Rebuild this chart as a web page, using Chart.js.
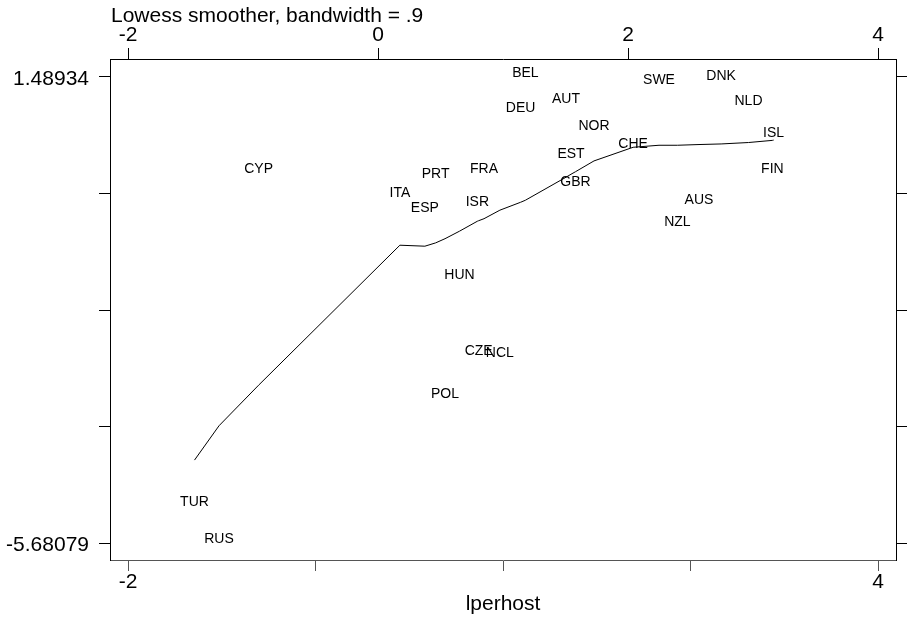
<!DOCTYPE html>
<html>
<head>
<meta charset="utf-8">
<script src="https://cdn.jsdelivr.net/npm/chart.js@4/dist/chart.umd.min.js"></script>
<style>
  html, body { margin: 0; padding: 0; background: #fff; }
  #wrap { width: 907px; height: 618px; }
</style>
</head>
<body>
<div id="wrap"><canvas id="chart" width="907" height="618"></canvas></div>
<script>
const countries = ['AUS', 'AUT', 'BEL', 'CHE', 'CYP', 'CZE', 'DEU', 'DNK', 'ESP', 'EST', 'FIN', 'FRA', 'GBR',
  'HUN', 'ISL', 'ISR', 'ITA', 'NCL', 'NLD', 'NOR', 'NZL', 'POL', 'PRT', 'RUS', 'SWE', 'TUR']
const lperhost = [2.567, 1.503, 1.178, 2.040, -0.956, 0.804, 1.140, 2.744, 0.374, 1.543, 3.154, 0.847, 1.579,
  0.651, 3.164, 0.794, 0.174, 0.974, 2.963, 1.727, 2.394, 0.535, 0.460, -1.273, 2.247, -1.469]
const yValues = [-0.468, 1.089, 1.48934, 0.396, 0.005, -2.787, 0.947, 1.436, -0.596, 0.242, 0.012, 0.012, -0.194,
  -1.621, 0.562, -0.499, -0.357, -2.821, 1.062, 0.667, -0.810, -3.451, -0.071, -5.68079, 1.385, -5.120]
const lowessFit = [0.450, -0.053, -0.407, 0.408, -3.252, -0.722, -0.438, 0.459, -1.114, -0.007, 0.514, -0.691, 0.032,
  -0.883, 0.518, -0.730, -1.099, -0.560, 0.481, 0.198, 0.439, -0.999, -1.063, -3.877, 0.439, -4.405]

const xTicksBottom = [-2, -0.5, 1, 2.5, 4]
const xLabelsBottom = ['-2', '', '', '', '4']
const xTicksTop = [-2, 0, 2, 4]
const xLabelsTop = ['-2', '0', '2', '4']
const yTicks = [-5.68079, -3.888323, -2.095855, -0.303388, 1.48934]
const yLabels = ['-5.68079', '', '', '', '1.48934']

const titleText = 'Lowess smoother, bandwidth = .9'
const xTitle = 'lperhost'

const fontFamily = '"Liberation Sans", Arial, Helvetica, sans-serif'
const axisFont = { family: fontFamily, size: 21 }

// points sorted by x for the smoother line
let order = lperhost.map((x, i) => i).sort((a, b) => lperhost[a] - lperhost[b])
let lineData = order.map(i => ({ x: lperhost[i], y: lowessFit[i] }))
let pointData = lperhost.map((x, i) => ({ x: x, y: yValues[i] }))

// country labels centred on the (invisible) markers
const markerLabels = {
  id: 'markerLabels',
  afterDatasetsDraw(chart) {
    const meta = chart.getDatasetMeta(1)
    const ctx = chart.ctx
    ctx.save()
    ctx.font = '14px ' + fontFamily
    ctx.fillStyle = '#000'
    ctx.textAlign = 'center'
    ctx.textBaseline = 'middle'
    meta.data.forEach((pt, i) => ctx.fillText(countries[i], pt.x, pt.y - 4))
    ctx.restore()
  }
}

const topTitle = {
  id: 'topTitle',
  afterDraw(chart) {
    const ctx = chart.ctx
    ctx.save()
    ctx.font = '21px ' + fontFamily
    ctx.fillStyle = '#000'
    ctx.textAlign = 'left'
    ctx.textBaseline = 'alphabetic'
    ctx.fillText(titleText, chart.chartArea.left + 1, 21.5)
    ctx.restore()
  }
}

function fixedTicks(values) {
  return axis => { axis.ticks = values.map(v => ({ value: v })) }
}

const xMin = -2.145, xMax = 4.143
const yMin = -5.942, yMax = 1.766

new Chart(document.getElementById('chart').getContext('2d'), {
  type: 'scatter',
  data: {
    datasets: [{
      type: 'line',
      label: 'lowess',
      data: lineData,
      borderColor: '#000',
      borderWidth: 1,
      pointRadius: 0,
      tension: 0,
      fill: false
    }, {
      label: 'countries',
      data: pointData,
      pointRadius: 0,
      pointHoverRadius: 0,
      showLine: false
    }]
  },
  plugins: [markerLabels, topTitle],
  options: {
    responsive: false,
    animation: false,
    layout: { padding: 0 },
    plugins: {
      legend: { display: false },
      tooltip: { enabled: false },
      title: { display: false }
    },
    scales: {
      x: {
        type: 'linear',
        position: 'bottom',
        min: xMin,
        max: xMax,
        afterBuildTicks: fixedTicks(xTicksBottom),
        afterFit: axis => { axis.height = 58 },
        ticks: {
          callback: (v, i) => xLabelsBottom[i],
          font: axisFont,
          color: '#000',
          padding: -1,
          maxRotation: 0,
          autoSkip: false
        },
        grid: { drawOnChartArea: false, tickLength: 11, color: '#555' },
        border: { color: '#555' },
        title: { display: true, text: xTitle, font: axisFont, color: '#000', padding: { top: 0, bottom: 1 } }
      },
      x2: {
        type: 'linear',
        position: 'top',
        min: xMin,
        max: xMax,
        afterBuildTicks: fixedTicks(xTicksTop),
        afterFit: axis => { axis.height = 59 },
        ticks: {
          callback: (v, i) => xLabelsTop[i],
          font: axisFont,
          color: '#000',
          padding: 0,
          maxRotation: 0,
          autoSkip: false
        },
        grid: { drawOnChartArea: false, tickLength: 11, color: '#000' },
        border: { color: '#000' }
      },
      y: {
        type: 'linear',
        position: 'left',
        min: yMin,
        max: yMax,
        afterBuildTicks: fixedTicks(yTicks),
        afterFit: axis => { axis.width = 110 },
        ticks: {
          callback: (v, i) => yLabels[i],
          font: axisFont,
          color: '#000',
          padding: 10,
          labelOffset: 2,
          autoSkip: false
        },
        grid: { drawOnChartArea: false, tickLength: 11, color: '#000' },
        border: { color: '#000' }
      },
      y2: {
        type: 'linear',
        position: 'right',
        min: yMin,
        max: yMax,
        afterBuildTicks: fixedTicks(yTicks),
        afterFit: axis => { axis.width = 11 },
        ticks: { display: false },
        grid: { drawOnChartArea: false, tickLength: 11, color: '#000' },
        border: { color: '#000' }
      }
    }
  }
})
</script>
</body>
</html>
